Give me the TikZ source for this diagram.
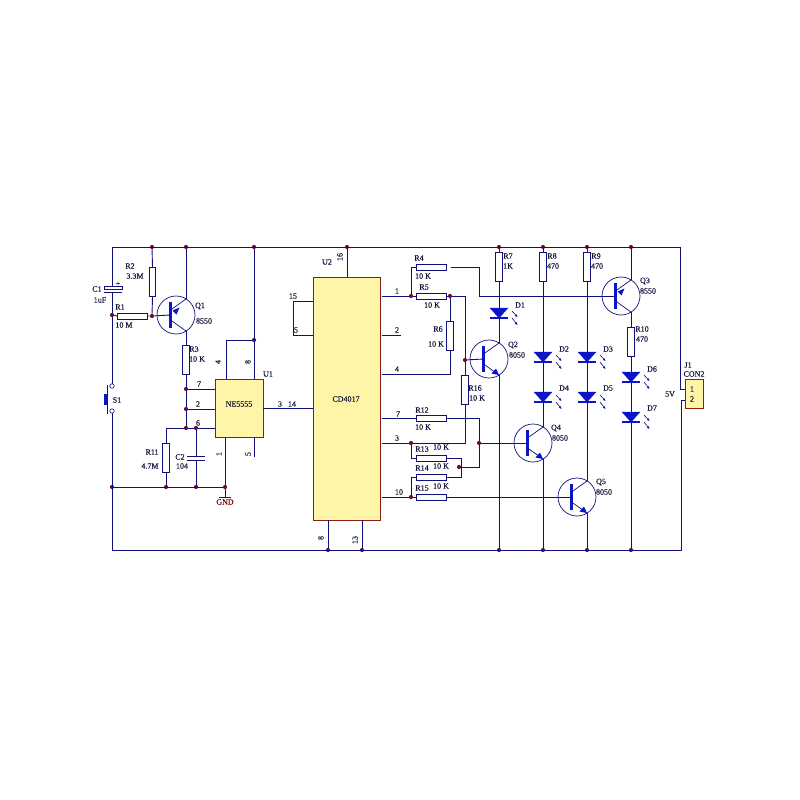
\documentclass[tikz,border=0pt]{standalone}
\usepackage{fontspec}
\setmainfont{Liberation Serif}[FakeBold=0.25]
\usetikzlibrary{calc,arrows.meta}
\definecolor{wirec}{HTML}{10107A}
\definecolor{barc}{HTML}{0A14C8}
\definecolor{dotc}{HTML}{6A1030}
\definecolor{chipf}{HTML}{FFF5A8}
\definecolor{chipb}{HTML}{8A1E10}
\definecolor{txtc}{HTML}{14143C}
\tikzset{
  wire/.style={draw=wirec,line width=0.9pt},
  resbox/.style={draw=wirec,fill=white,line width=0.8pt,inner sep=0pt,rectangle},
  hres/.style={resbox,minimum width=30pt,minimum height=6pt},
  vres/.style={resbox,minimum width=6.5pt,minimum height=29pt},
  chip/.style={draw=chipb,fill=chipf,line width=0.9pt,inner sep=0pt,rectangle},
  lbl/.style={text=txtc,font=\fontsize{8}{8}\selectfont,inner sep=0pt},
  thinc/.style={draw=wirec,line width=0.7pt},
  jdot/.style={circle,fill=dotc,inner sep=0pt,minimum size=4.2pt},
  ledtri/.style={fill=barc,draw=barc,line width=0.3pt},
  ledbar/.style={draw=barc,line width=1.5pt},
  tbar/.style={draw=barc,line width=2.1pt},
  ray/.style={draw=wirec,line width=0.6pt,-{Latex[length=2.6pt,width=2.6pt]}},
}
% #1 name, #2 centre x, #3 centre y
\newcommand{\npnT}[3]{%
  \node[circle,draw=wirec,line width=0.7pt,minimum size=38pt,inner sep=0pt] (#1) at (#2,#3) {};
  \coordinate (#1b) at ($(#1.center)+(-5.5,0)$);
  \coordinate (#1c) at ($(#1.center)+(10,-16)$);
  \coordinate (#1e) at ($(#1.center)+(10,16)$);
  \draw[tbar] ($(#1b)+(0,-13)$) -- ($(#1b)+(0,13)$);
  \draw[thinc] ($(#1b)+(0,-5)$) -- (#1c);
  \draw[thinc] ($(#1b)+(0,5)$) -- (#1e);
  \fill[barc] (#1e) -- ++(-7.5,-1.5) -- ++(4.5,-5) -- cycle;
}
\newcommand{\pnpT}[3]{%
  \node[circle,draw=wirec,line width=0.7pt,minimum size=38pt,inner sep=0pt] (#1) at (#2,#3) {};
  \coordinate (#1b) at ($(#1.center)+(-5.5,0)$);
  \coordinate (#1c) at ($(#1.center)+(10,16)$);
  \coordinate (#1e) at ($(#1.center)+(10,-16)$);
  \draw[tbar] ($(#1b)+(0,-13)$) -- ($(#1b)+(0,13)$);
  \draw[thinc] ($(#1b)+(0,-5)$) -- (#1e);
  \draw[thinc] ($(#1b)+(0,5)$) -- (#1c);
  \fill[barc] ($(#1b)+(2,-4.5)$) -- ++(7,-3) -- ++(-3,7) -- cycle;
}
% #1 name, #2 x, #3 top y: LED with outgoing rays
\newcommand{\ledD}[3]{%
  \coordinate (#1a) at (#2,#3);
  \coordinate (#1k) at (#2,#3+10);
  \fill[ledtri] ($(#1a)+(-9,0)$) -- ($(#1a)+(9,0)$) -- (#1k) -- cycle;
  \draw[ledbar] ($(#1k)+(-9,0)$) -- ($(#1k)+(9,0)$);
  \draw[ray] ($(#1a)+(13,3)$) -- ($(#1a)+(18.5,9)$);
  \draw[ray] ($(#1a)+(13,10)$) -- ($(#1a)+(18.5,17)$);
}
\begin{document}
\begin{tikzpicture}[x=1pt,y=-1pt]
\useasboundingbox[fill=white] (0,0) rectangle (800,800);

% junctions
\foreach \n/\x/\y in {t1/152/247,t2/186/247,t3/254/247,t4/347/247,t5/499/247,t6/543/247,t7/587/247,t8/631/247,
  b1/328/550,b2/362/550,b3/499/550,b4/543/550,b5/587/550,b6/631/550,
  jc/112/315,jb/152/316,j7/186/389,j2/186/409,j6/186/428,jc2/196/428,
  jg0/112/487,jg1/166/487,jg2/196/487,jg3/225/487,jv/254/340,
  j1/411/296,jr5/450/296,jq2/465/360,j3/411/443,jq4/479/443,jx/459/467,j10/411/497}
  {\node[jdot] (\n) at (\x,\y) {};}
\coordinate (tl) at (112,247); \coordinate (tr) at (680,247);
\coordinate (bl) at (112,550); \coordinate (br) at (681,550);

% chips
\node[chip,minimum width=48pt,minimum height=58pt] (U1) at (239,408) {};
\node[chip,minimum width=67pt,minimum height=243pt] (U2) at (346.5,398.5) {};
\node[chip,minimum width=18pt,minimum height=29pt] (J1) at (694,393.5) {};

% resistors
\node[hres] (R1) at (132.5,316) {};
\node[vres] (R2) at (152.5,282) {};
\node[vres] (R3) at (186,360) {};
\node[hres] (R4) at (431,267) {};
\node[hres] (R5) at (431,296) {};
\node[vres] (R6) at (450,335.5) {};
\node[vres] (R7) at (499,267) {};
\node[vres] (R8) at (543,267) {};
\node[vres] (R9) at (587,267) {};
\node[vres] (R10) at (631,341.5) {};
\node[vres] (R11) at (166,457.5) {};
\node[hres] (R12) at (431,418) {};
\node[hres] (R13) at (431,458) {};
\node[hres] (R14) at (431,477) {};
\node[hres] (R15) at (431,497) {};
\node[vres] (R16) at (465,389.5) {};

% transistors
\pnpT{Q1}{176}{315}
\npnT{Q2}{489}{359}
\pnpT{Q3}{621}{296}
\npnT{Q4}{533}{443}
\npnT{Q5}{577}{497}

% rails
\draw[wire] (tl) -- (tr) |- (J1.west |- 389,389);
\draw[wire] (tl) -- (112,288);
\draw[wire] (112,292) -- (jc) -- (112,384);
\draw[wire] (112,413) -- (bl) -- (br) -- (681,400) -- (685,400);

% C1, S1
\draw[draw=wirec,line width=0.8pt,fill=white] (104,286.5) rectangle (122,289.5);
\draw[wire] (104,292.5) -- (122,292.5);
\node[circle,draw=wirec,line width=0.6pt,fill=white,minimum size=4.5pt,inner sep=0pt] (S1a) at (112,386) {};
\node[circle,draw=wirec,line width=0.6pt,fill=white,minimum size=4.5pt,inner sep=0pt] (S1b) at (112,411) {};
\draw[draw=wirec,line width=0.8pt] (107,385) -- (107,414);
\draw[draw=barc,line width=3pt] (105,394) -- (105,405);

% left transistor network
\draw[wire] (jc) -- (R1.west);
\draw[wire] (R1.east) -- (jb) -- (Q1b);
\draw[wire] (t1) -- (R2.north);
\draw[wire] (R2.south) -- (jb);
\draw[wire] (t2) -- (Q1e);
\draw[wire] (Q1c) -- (R3.north);
\draw[wire] (R3.south) -- (j7) -- (j2) -- (j6);
\draw[wire] (j7) -- (j7 -| U1.west);
\draw[wire] (j2) -- (j2 -| U1.west);
\draw[wire] (j6) -- (jc2) -- (jc2 -| U1.west);
\draw[wire] (j6) -- (166,428) -- (R11.north);
\draw[wire] (R11.south) -- (jg1);
\draw[wire] (jc2) -- (196,456.5);
\draw[wire] (196,460.5) -- (jg2);
\draw[wire] (187,456.5) -- (205,456.5);
\draw[wire] (187,460.5) -- (205,460.5);
\draw[wire] (jg0) -- (jg3);
\draw[wire] (t3) -- (t3 |- U1.north);
\draw[wire] (jv) -- (226,340) -- (226,379);
\draw[wire] (225,437) -- (jg3) -- (225,497);
\draw[wire] (219,497) -- (231,497);
\draw[wire] (254,437) -- (254,457);

% U2 pins
\draw[wire] (U1.east) -- (U1.east -| U2.west);
\draw[wire] (t4) -- (t4 |- U2.north);
\draw[wire] (313,301) -- (293,301) -- (293,335) -- (313,335);
\draw[wire] (b1) -- (b1 |- U2.south);
\draw[wire] (b2) -- (b2 |- U2.south);
\draw[wire] (382,335) -- (401,335);

% outputs
\draw[wire] (382,296) -- (j1) -- (R5.west);
\draw[wire] (j1) -- (411,267) -- (R4.west);
\draw[wire] (R4.east) ++(5,0) -- (479,267) -- (479,296) -- (Q3b);
\draw[wire] (R5.east) -- (jr5) -- (465,296) -- (jq2) -- (R16.north);
\draw[wire] (jr5) -- (R6.north);
\draw[wire] (R6.south) -- (450,374) -- (382,374);
\draw[wire] (jq2) -- (Q2b);
\draw[wire] (R16.south) -- (465,443) -- (j3) -- (382,443);
\draw[wire] (382,418) -- (R12.west);
\draw[wire] (R12.east) -- (479,418) -- (jq4) -- (479,467) -- (jx);
\draw[wire] (jq4) -- (Q4b);
\draw[wire] (j3) -- (411,458) -- (R13.west);
\draw[wire] (R13.east) -- (461,458) -- (461,477) -- (R14.east);
\draw[wire] (R14.west) -- (411,477) -- (j10);
\draw[wire] (382,497) -- (j10) -- (R15.west);
\draw[wire] (R15.east) -- (Q5b);

% LEDs
\ledD{D1}{499}{308}
\ledD{D2}{543}{352}
\ledD{D4}{543}{392}
\ledD{D3}{587}{352}
\ledD{D5}{587}{392}
\ledD{D6}{631}{372}
\ledD{D7}{631}{412}

% right columns
\draw[wire] (t5) -- (R7.north);
\draw[wire] (R7.south) -- (D1a);
\draw[wire] (D1k) -- (Q2c);
\draw[wire] (Q2e) -- (b3);
\draw[wire] (t6) -- (R8.north);
\draw[wire] (R8.south) -- (D2a);
\draw[wire] (D2k) -- (D4a);
\draw[wire] (D4k) -- (Q4c);
\draw[wire] (Q4e) -- (b4);
\draw[wire] (t7) -- (R9.north);
\draw[wire] (R9.south) -- (D3a);
\draw[wire] (D3k) -- (D5a);
\draw[wire] (D5k) -- (Q5c);
\draw[wire] (Q5e) -- (b5);
\draw[wire] (t8) -- (Q3e);
\draw[wire] (Q3c) -- (R10.north);
\draw[wire] (R10.south) -- (D6a);
\draw[wire] (D6k) -- (D7a);
\draw[wire] (D7k) -- (b6);

% labels
\node[lbl] (tC1) at (97,289) {C1};
\node[lbl] (tC1v) at (100,300) {1uF};
\node[lbl] (tp) at (118,284) {+};
\node[lbl] (tR1) at (120,307) {R1};
\node[lbl] (tR1v) at (124,325) {10 M};
\node[lbl] (tR2) at (130,266) {R2};
\node[lbl] (tR2v) at (135,276) {3.3M};
\node[lbl] (tQ1) at (200,306) {Q1};
\node[lbl] (tQ1v) at (204,321) {8550};
\node[lbl] (tR3) at (194,349) {R3};
\node[lbl] (tR3v) at (197,359) {10 K};
\node[lbl] (tS1) at (117,400) {S1};
\node[lbl] (tR11) at (152,452) {R11};
\node[lbl] (tR11v) at (150,466) {4.7M};
\node[lbl] (tC2) at (180,457) {C2};
\node[lbl] (tC2v) at (182,466) {104};
\node[lbl,text=red!45!black] (tGND) at (225,502) {GND};
\node[lbl] (tU1) at (268,374) {U1};
\node[lbl] (tNE) at (239,404) {NE5555};
\node[lbl,rotate=90] (p4) at (218,362) {4};
\node[lbl,rotate=90] (p8) at (248,362) {8};
\node[lbl] (p7) at (199,384) {7};
\node[lbl] (p2) at (198,404) {2};
\node[lbl] (p6) at (198,423) {6};
\node[lbl,rotate=90] (p1) at (219,454) {1};
\node[lbl,rotate=90] (p5) at (248,454) {5};
\node[lbl] (p3) at (280,404) {3};
\node[lbl] (p14) at (292,404) {14};
\node[lbl] (tU2) at (327,262) {U2};
\node[lbl,rotate=90] (p16) at (340,257) {16};
\node[lbl] (p15) at (293,296) {15};
\node[lbl] (p5b) at (296,330) {5};
\node[lbl] (tCD) at (346,399) {CD4017};
\node[lbl,rotate=90] (p8b) at (321,538) {8};
\node[lbl,rotate=90] (p13) at (355,540) {13};
\node[lbl] (o1) at (397,291) {1};
\node[lbl] (o2) at (397,330) {2};
\node[lbl] (o4) at (397,369) {4};
\node[lbl] (o7) at (398,414) {7};
\node[lbl] (o3) at (397,438) {3};
\node[lbl] (o10) at (399,492) {10};
\node[lbl] (tR4) at (419,258) {R4};
\node[lbl] (tR4v) at (423,276) {10 K};
\node[lbl] (tR5) at (424,287) {R5};
\node[lbl] (tR5v) at (432,305) {10 K};
\node[lbl] (tR6) at (438,329) {R6};
\node[lbl] (tR6v) at (436,344) {10 K};
\node[lbl] (tR16) at (475,388) {R16};
\node[lbl] (tR16v) at (477,398) {10 K};
\node[lbl] (tR12) at (422,410) {R12};
\node[lbl] (tR12v) at (423,427) {10 K};
\node[lbl] (tR13) at (422,449) {R13};
\node[lbl] (tR13v) at (441,447) {10 K};
\node[lbl] (tR14) at (422,468) {R14};
\node[lbl] (tR14v) at (441,466) {10 K};
\node[lbl] (tR15) at (422,488) {R15};
\node[lbl] (tR15v) at (441,486) {10 K};
\node[lbl] (tR7) at (508,256) {R7};
\node[lbl] (tR7v) at (508,266) {1K};
\node[lbl] (tR8) at (552,256) {R8};
\node[lbl] (tR8v) at (553,266) {470};
\node[lbl] (tR9) at (596,256) {R9};
\node[lbl] (tR9v) at (597,266) {470};
\node[lbl] (tR10) at (642,329) {R10};
\node[lbl] (tR10v) at (642,339) {470};
\node[lbl] (tQ2) at (513,345) {Q2};
\node[lbl] (tQ2v) at (517,355) {8050};
\node[lbl] (tQ3) at (645,281) {Q3};
\node[lbl] (tQ3v) at (648,291) {8550};
\node[lbl] (tQ4) at (556,428) {Q4};
\node[lbl] (tQ4v) at (560,438) {8050};
\node[lbl] (tQ5) at (601,482) {Q5};
\node[lbl] (tQ5v) at (604,492) {8050};
\node[lbl] (tD1) at (520,305) {D1};
\node[lbl] (tD2) at (564,349) {D2};
\node[lbl] (tD4) at (564,388) {D4};
\node[lbl] (tD3) at (608,349) {D3};
\node[lbl] (tD5) at (608,388) {D5};
\node[lbl] (tD6) at (652,369) {D6};
\node[lbl] (tD7) at (652,408) {D7};
\node[lbl] (tJ1) at (688,365) {J1};
\node[lbl] (tJ1v) at (694,374) {CON2};
\node[lbl] (t5V) at (670,394) {5V};
\node[lbl] (n1) at (692,389) {1};
\node[lbl] (n2) at (692,399) {2};
\end{tikzpicture}
\end{document}
